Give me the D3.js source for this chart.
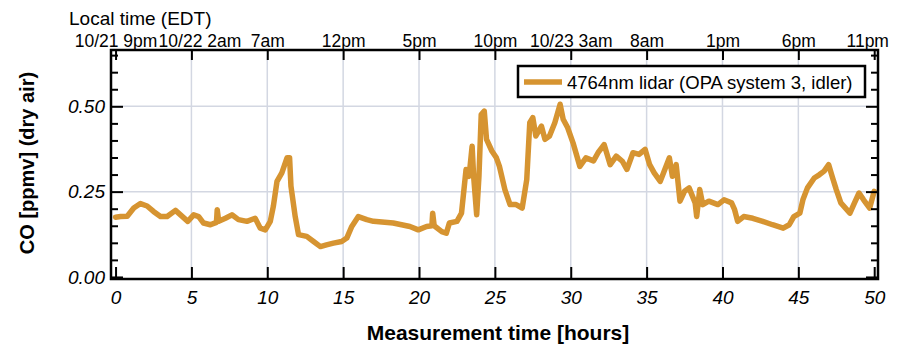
<!DOCTYPE html>
<html>
<head>
<meta charset="utf-8">
<script src="https://cdn.jsdelivr.net/npm/d3@7"></script>
<style>
  body { margin: 0; background: #fff; }
  svg { display: block; font-family: "Liberation Sans", Arial, Helvetica, sans-serif; }
  .grid line { stroke: #d3d7e2; stroke-width: 1.5; }
  .axis path { display: none; }
  .axis line { stroke: #000; stroke-width: 2; }
</style>
</head>
<body>
<script>
var hours = [
  0, 0.33, 0.77, 1.2, 1.64, 2.08, 2.5, 2.96, 3.4, 3.95, 4.28, 4.76, 5.15, 5.48, 5.8,
  6.25, 6.65, 6.7, 6.8, 7.24, 7.67, 8.1, 8.66, 9.2, 9.54, 9.87, 10.2, 10.4, 10.64,
  10.96, 11.3, 11.47, 11.56, 11.84, 12.06, 12.6, 13.05, 13.5, 13.9, 14.36, 14.9,
  15.24, 15.57, 16.0, 16.56, 17.0, 18.3, 19.4, 19.95, 20.5, 20.85, 20.9, 21.0, 21.5,
  21.8, 22.0, 22.5, 22.8, 23.1, 23.3, 23.5, 23.6, 23.8, 23.95, 24.1, 24.3, 24.45,
  24.8, 25.1, 25.3, 25.66, 26.0, 26.4, 26.8, 27.1, 27.3, 27.5, 27.7, 28.07, 28.3,
  28.6, 28.95, 29.3, 29.5, 29.8, 30.15, 30.6, 31.0, 31.5, 31.8, 32.2, 32.6, 33.0,
  33.4, 33.7, 34.1, 34.5, 34.9, 35.2, 35.5, 35.9, 36.2, 36.5, 36.7, 36.95, 37.2,
  37.5, 37.8, 38.2, 38.3, 38.5, 38.7, 39.1, 39.7, 40.1, 40.6, 40.8, 41.0, 41.4,
  42.0, 42.65, 43.3, 44.0, 44.4, 44.7, 45.1, 45.3, 45.6, 46.05, 46.4, 46.7, 47.0,
  47.26, 47.5, 47.8, 48.4, 48.7, 49.0, 49.3, 49.7, 50.0
];
var co = [
  0.175, 0.177, 0.178, 0.202, 0.215, 0.208, 0.192, 0.177, 0.177, 0.195, 0.182, 0.163, 0.182, 0.177, 0.158,
  0.153, 0.160, 0.197, 0.163, 0.172, 0.182, 0.168, 0.163, 0.172, 0.143, 0.138, 0.163, 0.207, 0.280,
  0.305, 0.349, 0.349, 0.266, 0.177, 0.124, 0.119, 0.104, 0.089, 0.094, 0.099, 0.104,
  0.114, 0.148, 0.177, 0.168, 0.163, 0.158, 0.148, 0.138, 0.148, 0.150, 0.187, 0.150, 0.133,
  0.128, 0.158, 0.163, 0.187, 0.315, 0.295, 0.383, 0.295, 0.182, 0.295, 0.476, 0.486, 0.403,
  0.369, 0.349, 0.324, 0.256, 0.212, 0.212, 0.202, 0.285, 0.452, 0.467, 0.413, 0.442, 0.403,
  0.413, 0.452, 0.506, 0.462, 0.437, 0.393, 0.324, 0.349, 0.340, 0.364, 0.388, 0.329, 0.354,
  0.339, 0.315, 0.364, 0.359, 0.374, 0.329, 0.305, 0.280, 0.315, 0.349, 0.295, 0.329, 0.222,
  0.251, 0.261, 0.217, 0.177, 0.256, 0.212, 0.222, 0.212, 0.226, 0.217, 0.197, 0.163, 0.177,
  0.172, 0.163, 0.153, 0.143, 0.153, 0.177, 0.187, 0.226, 0.261, 0.290, 0.300, 0.310, 0.329,
  0.290, 0.256, 0.217, 0.187, 0.217, 0.246, 0.226, 0.202, 0.251
];

var xTicks = [0, 5, 10, 15, 20, 25, 30, 35, 40, 45, 50];
var localLabels = ['10/21 9pm', '10/22 2am', '7am', '12pm', '5pm', '10pm',
                   '10/23 3am', '8am', '1pm', '6pm', '11pm'];
var yTicks = [0, 0.25, 0.5];
var yMinorTicks = [0.05, 0.1, 0.15, 0.2, 0.3, 0.35, 0.4, 0.45, 0.55, 0.6, 0.65];
var seriesName = '4764nm lidar (OPA system 3, idler)';
var lineColor = '#d69431';

var width = 899, height = 350;
var plot = { left: 111, right: 878, top: 50, bottom: 279 };

var svg = d3.select('body').append('svg')
    .attr('width', width)
    .attr('height', height);

var x = d3.scaleLinear().domain([-0.3, 50.25]).range([plot.left, plot.right]);
var y = d3.scaleLinear().domain([-0.006, 0.665]).range([plot.bottom, plot.top]);

// grid
var grid = svg.append('g').attr('class', 'grid');
grid.selectAll('.gx').data(xTicks.slice(1, -1)).enter().append('line')
    .attr('x1', function (d) { return x(d); })
    .attr('x2', function (d) { return x(d); })
    .attr('y1', plot.top).attr('y2', plot.bottom);
grid.selectAll('.gy').data(yTicks.slice(1)).enter().append('line')
    .attr('x1', plot.left).attr('x2', plot.right)
    .attr('y1', function (d) { return y(d); })
    .attr('y2', function (d) { return y(d); });

// data line
var line = d3.line()
    .x(function (d, i) { return x(hours[i]); })
    .y(function (d) { return y(d); });

svg.append('path')
    .datum(co)
    .attr('d', line)
    .attr('fill', 'none')
    .attr('stroke', lineColor)
    .attr('stroke-width', 5.5)
    .attr('stroke-linejoin', 'round')
    .attr('stroke-linecap', 'round');

// bottom axis
svg.append('g')
    .attr('class', 'axis')
    .attr('transform', translation(0, plot.bottom))
    .call(d3.axisBottom(x).tickValues(xTicks).tickSize(-12).tickPadding(12).tickFormat(d3.format('d')))
    .selectAll('text')
    .attr('font-size', '19px')
    .attr('font-style', 'italic')
    .attr('fill', '#000');

// top axis with local time labels
var topAxis = svg.append('g')
    .attr('class', 'axis')
    .attr('transform', translation(0, plot.top))
    .call(d3.axisTop(x).tickValues(xTicks).tickSize(-10).tickPadding(3)
        .tickFormat(function (d, i) { return localLabels[i]; }));
topAxis.selectAll('text')
    .attr('font-size', '17.5px')
    .attr('fill', '#000')
    .attr('dx', function (d, i) { return i === 1 ? 8 : (i === xTicks.length - 1 ? -7 : 0); });

// left axis
svg.append('g')
    .attr('class', 'axis')
    .attr('transform', translation(plot.left, 0))
    .call(d3.axisLeft(y).tickValues(yTicks).tickSize(-12).tickPadding(6).tickFormat(d3.format('.2f')))
    .selectAll('text')
    .attr('font-size', '19px')
    .attr('font-style', 'italic')
    .attr('fill', '#000');
svg.append('g')
    .attr('class', 'axis')
    .attr('transform', translation(plot.left, 0))
    .call(d3.axisLeft(y).tickValues(yMinorTicks).tickSize(-7).tickFormat(''));

// right axis, ticks only, pointing inward
svg.append('g')
    .attr('class', 'axis')
    .attr('transform', translation(plot.right, 0))
    .call(d3.axisLeft(y).tickValues(yTicks).tickSize(12).tickFormat(''));
svg.append('g')
    .attr('class', 'axis')
    .attr('transform', translation(plot.right, 0))
    .call(d3.axisLeft(y).tickValues(yMinorTicks).tickSize(7).tickFormat(''));

// frame
svg.append('rect')
    .attr('x', plot.left).attr('y', plot.top)
    .attr('width', plot.right - plot.left)
    .attr('height', plot.bottom - plot.top)
    .attr('fill', 'none')
    .attr('stroke', '#000')
    .attr('stroke-width', 2.5);

// legend
var legend = svg.append('g').attr('transform', translation(518, 66));
legend.append('rect')
    .attr('width', 347).attr('height', 31)
    .attr('fill', '#fff')
    .attr('stroke', '#000')
    .attr('stroke-width', 2.5);
legend.append('line')
    .attr('x1', 6).attr('x2', 44)
    .attr('y1', 16).attr('y2', 16)
    .attr('stroke', lineColor)
    .attr('stroke-width', 5.5);
legend.append('text')
    .attr('x', 49).attr('y', 22.5)
    .attr('font-size', '18.5px')
    .text(seriesName);

// titles
svg.append('text')
    .attr('x', 69).attr('y', 25)
    .attr('font-size', '19px')
    .text('Local time (EDT)');

svg.append('text')
    .attr('x', 498).attr('y', 340)
    .attr('text-anchor', 'middle')
    .attr('font-size', '21px')
    .attr('font-weight', 'bold')
    .text('Measurement time [hours]');

svg.append('text')
    .attr('transform', translation(34, 163) + 'rotate(-90)')
    .attr('text-anchor', 'middle')
    .attr('font-size', '20px')
    .attr('font-weight', 'bold')
    .text('CO [ppmv] (dry air)');

function translation(x, y) {
    return 'translate(' + x + ',' + y + ')';
}
</script>
</body>
</html>
